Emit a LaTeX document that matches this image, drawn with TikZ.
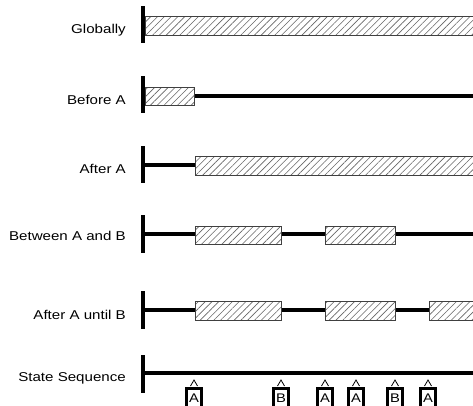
\documentclass[tikz,border=0pt]{standalone}
\usepackage{fontspec}
\setmainfont{Liberation Sans}[FakeStretch=1.18]
\usetikzlibrary{patterns.meta}
\begin{document}
\begin{tikzpicture}[x=1pt,y=-1pt,
  lbl/.style={anchor=base east,inner sep=0pt,font=\fontsize{12.8}{15}\selectfont},
  tbar/.style={line width=4.5pt},
  tline/.style={line width=4.5pt},
  hatchbox/.style={draw=black!75,line width=0.7pt,pattern={Lines[angle=45,distance=4.8pt,line width=0.6pt]},pattern color=black!60},
  evt/.style={draw,line width=2.8pt,minimum width=14.5pt,minimum height=20pt,inner sep=0pt,anchor=north,text depth=0pt,font=\fontsize{12.5}{12.5}\selectfont}]
\clip (0,0) rectangle (473,405);
\fill[white] (0,0) rectangle (473,405);

% Globally
\node[lbl] (glob) at (126,33) {Globally};
\draw[tbar] (143,6) -- (143,43);
\fill[white] (145,16) rectangle (480,35);
\draw[hatchbox] (145,16) rectangle (480,35);

% Before A
\node[lbl] (befA) at (126,104) {Before A};
\draw[tbar] (143,76) -- (143,113);
\draw[tline] (194,96) -- (473,96);
\fill[white] (145,87) rectangle (194,105);
\draw[hatchbox] (145,87) rectangle (194,105);

% After A
\node[lbl] (aftA) at (126,173.5) {After A};
\draw[tbar] (143,146) -- (143,183);
\draw[tline] (143,165) -- (195,165);
\fill[white] (195,156) rectangle (480,175);
\draw[hatchbox] (195,156) rectangle (480,175);

% Between A and B
\node[lbl] (betw) at (126,240.5) {Between A and B};
\draw[tbar] (143,215) -- (143,253);
\draw[tline] (143,234) -- (473,234);
\fill[white] (195,226) rectangle (281,244);
\draw[hatchbox] (195,226) rectangle (281,244);
\fill[white] (325,226) rectangle (395,244);
\draw[hatchbox] (325,226) rectangle (395,244);

% After A until B
\node[lbl] (until) at (126,319.5) {After A until B};
\draw[tbar] (143,291) -- (143,329);
\draw[tline] (143,310) -- (473,310);
\fill[white] (195,301) rectangle (281,320);
\draw[hatchbox] (195,301) rectangle (281,320);
\fill[white] (325,301) rectangle (395,320);
\draw[hatchbox] (325,301) rectangle (395,320);
\fill[white] (429,301) rectangle (480,320);
\draw[hatchbox] (429,301) rectangle (480,320);

% State Sequence
\node[lbl] (seq) at (126,381.5) {State Sequence};
\draw[tbar] (143,355) -- (143,393);
\draw[tline] (143,373) -- (473,373);

\node[evt] (e1) at (194,387) {A};
\node[evt] (e2) at (281,387) {B};
\node[evt] (e3) at (325,387) {A};
\node[evt] (e4) at (356,387) {A};
\node[evt] (e5) at (395,387) {B};
\node[evt] (e6) at (428,387) {A};
\foreach \e in {e1,e2,e3,e4,e5,e6}
  \draw[line width=0.8pt] ([xshift=-3.5pt,yshift=1pt]\e.north) -- ([yshift=7pt]\e.north) -- ([xshift=3.5pt,yshift=1pt]\e.north);
\end{tikzpicture}
\end{document}
